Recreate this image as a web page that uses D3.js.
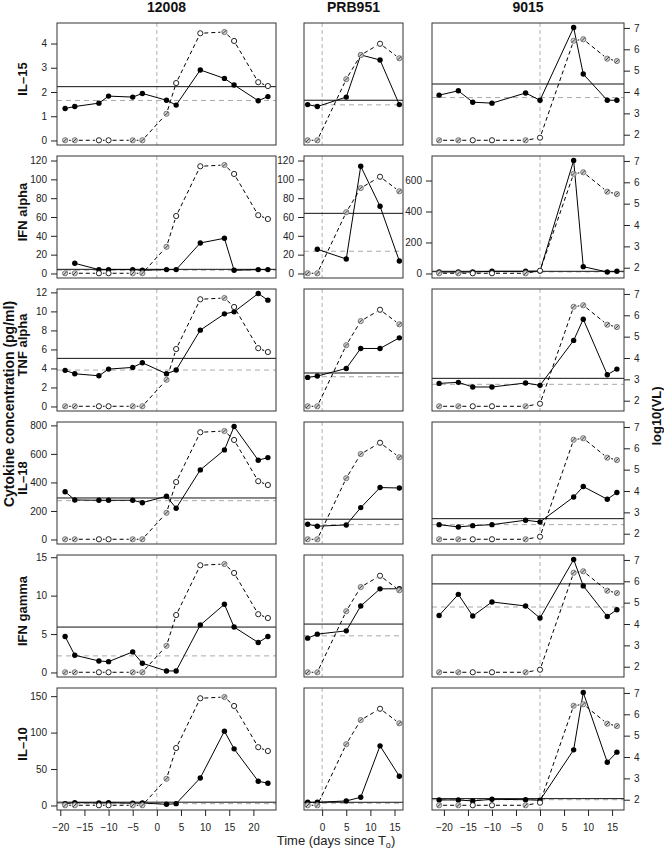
<!DOCTYPE html>
<html><head><meta charset="utf-8">
<script src="https://cdn.jsdelivr.net/npm/d3@7"></script>
<style>body{margin:0;background:#fff}svg{display:block;font-family:"Liberation Sans",Arial,Helvetica,sans-serif}</style>
</head><body><svg id="c" width="664" height="855"></svg>
<script>
// ---------------- DATA ----------------
const patients = ["12008", "PRB951", "9015"];
const cytokines = ["IL\u201315", "IFN alpha", "TNF alpha", "IL\u201318", "IFN gamma", "IL\u201310"];

const days12008 = [-19, -17, -12, -10, -5, -3, 2, 4, 9, 14, 16, 21, 23];
const daysPRB951 = [-3, -1, 5, 8, 12, 16];
const days9015 = [-21, -17, -14, -10, -3, 0, 7, 9, 14, 16];

// log10 viral load (same in every row for a given patient)
const vl12008 = [1.74, 1.74, 1.74, 1.74, 1.74, 1.74, 2.98, 4.42, 6.75, 6.81, 6.39, 4.46, 4.28];
const vlPRB951 = [1.74, 1.74, 4.6, 5.73, 6.26, 5.58];
const vl9015 = [1.74, 1.74, 1.74, 1.74, 1.74, 1.86, 6.4, 6.47, 5.56, 5.45];
// symbol kind of the viral-load points: "o" open, "g" grey crossed
const vlKind12008 = ["g", "g", "o", "o", "g", "g", "g", "o", "o", "g", "o", "o", "o"];
const vlKindPRB951 = ["g", "g", "g", "g", "o", "g"];
const vlKind9015 = ["g", "g", "o", "o", "g", "o", "g", "g", "g", "g"];

// cytokine concentrations [12008, PRB951, 9015]
const il15 = [
  [1.32, 1.40, 1.54, 1.83, 1.79, 1.94, 1.66, 1.46, 2.91, 2.56, 2.29, 1.64, 1.81],
  [1.48, 1.40, 1.79, 3.53, 3.32, 1.48],
  [1.87, 2.05, 1.58, 1.54, 1.96, 1.66, 4.66, 2.74, 1.66, 1.66]
];
const ifnAlpha = [
  [null, 10.8, 4.1, 4.1, 4.1, 3.4, 4.1, 4.1, 32.4, 37.4, 3.4, 4.1, 4.1],
  [null, 25.7, 15.4, 113.9, 71.4, 13.3],
  [9.7, 9.7, 9.7, 14, 14, 16, 729, 44, 9.7, 14]
];
const tnfAlpha = [
  [3.80, 3.44, 3.23, 3.93, 4.11, 4.60, 3.44, 3.83, 8.03, 9.74, 9.95, 11.88, 11.18],
  [3.06, 3.20, 4.0, 6.1, 6.1, 7.22],
  [2.43, 2.54, 2.05, 2.05, 2.47, 2.22, 6.95, 9.18, 3.34, 3.93]
];
const il18 = [
  [335, 277, 275, 275, 275, 258, 303, 219, 488, 628, 792, 556, 574],
  [107, 93, 102, 223, 364, 361],
  [104, 88, 97, 104, 135, 123, 298, 371, 282, 329]
];
const ifnGamma = [
  [4.68, 2.25, 1.50, 1.41, 2.68, 1.20, 0.2, 0.2, 6.17, 8.87, 5.91, 3.90, 4.68],
  [4.47, 4.99, 5.42, 8.65, 10.88, 10.9],
  [7.42, 10.17, 7.35, 9.18, 8.65, 7.08, 14.7, 11.27, 7.29, 8.17]
];
const il10 = [
  [2.5, 3.9, 3.4, 3.9, 3.0, 3.4, 1.6, 2.5, 37.8, 102, 77.7, 33.3, 30.5],
  [4.4, 4.4, 6.2, 11.3, 81.8, 40.2],
  [7.6, 7.6, 6.2, 8.5, 7.9, 7.2, 76.3, 155, 59.4, 73.2]
];

// horizontal reference levels per row [12008, PRB951, 9015]
const thresholdSolid = [
  [2.22, 1.66, 2.33], [4.4, 63.9, 14], [5.06, 3.52, 2.96],
  [291, 142, 146], [5.91, 6.30, 11.53], [4.5, 4.4, 9.4]
];
const baselineDashed = [
  [1.65, 1.47, 1.77], [3.5, 23.6, 10], [3.83, 3.13, 2.33],
  [272, 104, 104], [2.16, 4.77, 8.52], [2.5, 3.0, 7.9]
];

// axis limits / ticks
const ifnAlphaLimit = 120;
const vlLimits = [1.73, 7.02];
const leftTicks = [[0, 1, 2, 3, 4], [0, 20, 40, 60, 80, 100, 120], [0, 2, 4, 6, 8, 10, 12],
  [0, 200, 400, 600, 800], [0, 5, 10, 15], [0, 50, 100, 150]];
const ifnAlphaTicks9015 = [0, 200, 400, 600];
const vlTicks = [2, 3, 4, 5, 6, 7];
const xTicks = [[-20, -15, -10, -5, 0, 5, 10, 15, 20], [0, 5, 10, 15], [-20, -15, -10, -5, 0, 5, 10, 15]];

// ---------------- LAYOUT ----------------
const days = [days12008, daysPRB951, days9015];
const vls = [vl12008, vlPRB951, vl9015];
const vlKinds = [vlKind12008, vlKindPRB951, vlKind9015];
const series = [il15, ifnAlpha, tnfAlpha, il18, ifnGamma, il10];

const colLeft = [57, 304, 432], colRight = [276, 403, 624];
const rowTop0 = 23, rowStep = 133, rowH = 122;
const pad4 = ([a, b]) => [a - (b - a) * 0.04, b + (b - a) * 0.04];
const fmt = d => d < 0 ? "\u2212" + Math.abs(d) : String(d);

const svg = d3.select("#c");
const xScales = days.map((d, c) => d3.scaleLinear().domain(pad4(d3.extent(d))).range([colLeft[c], colRight[c]]));

function styleAxis(g) {
  g.select(".domain").remove();
  g.selectAll(".tick line").attr("stroke", "#222");
  g.selectAll(".tick text").attr("fill", "#222").style("font-size", "10px")
    .style("font-family", '"Liberation Sans",Arial,sans-serif');
}

for (let r = 0; r < 6; r++) {
  const top = rowTop0 + r * rowStep, bottom = top + rowH;
  const rowMax = d3.max(series[r].flat().filter(v => v != null));
  for (let c = 0; c < 3; c++) {
    const x = xScales[c];
    let yMax = rowMax;
    if (r === 1) yMax = c < 2 ? ifnAlphaLimit : d3.max(series[r][2]);
    const y = d3.scaleLinear().domain(pad4([0, yMax])).range([bottom, top]);
    const v = d3.scaleLinear().domain(pad4(vlLimits)).range([bottom, top]);
    const L = colLeft[c], R = colRight[c];
    const g = svg.append("g");
    const cid = "clip" + r + "_" + c;
    g.append("clipPath").attr("id", cid).append("rect").attr("x", L).attr("y", top).attr("width", R - L).attr("height", rowH);
    const inner = g.append("g").attr("clip-path", "url(#" + cid + ")");

    // vertical line at day 0
    inner.append("line").attr("x1", x(0)).attr("x2", x(0)).attr("y1", top).attr("y2", bottom)
      .attr("stroke", "#b0b0b0").attr("stroke-dasharray", "4,3");
    // reference lines
    inner.append("line").attr("x1", L).attr("x2", R).attr("y1", y(baselineDashed[r][c])).attr("y2", y(baselineDashed[r][c]))
      .attr("stroke", "#aaaaaa").attr("stroke-dasharray", "5,4");
    inner.append("line").attr("x1", L).attr("x2", R).attr("y1", y(thresholdSolid[r][c])).attr("y2", y(thresholdSolid[r][c]))
      .attr("stroke", "#111").attr("stroke-width", 1);

    // cytokine series
    const pts = days[c].map((d, i) => ({ d, val: series[r][c][i] }));
    const line = d3.line().defined(p => p.val != null).x(p => x(p.d)).y(p => y(p.val));
    inner.append("path").attr("d", line(pts)).attr("fill", "none").attr("stroke", "#000").attr("stroke-width", 1);
    inner.selectAll(null).data(pts.filter(p => p.val != null)).join("circle")
      .attr("cx", p => x(p.d)).attr("cy", p => y(p.val)).attr("r", 2.7).attr("fill", "#000");

    // viral load series (type "b": gaps around points)
    const vp = days[c].map((d, i) => ({ d, val: vls[c][i], k: vlKinds[c][i] }));
    const segs = [];
    for (let i = 0; i < vp.length - 1; i++) {
      const x1 = x(vp[i].d), y1 = v(vp[i].val), x2 = x(vp[i + 1].d), y2 = v(vp[i + 1].val);
      const len = Math.hypot(x2 - x1, y2 - y1), gap = 4;
      if (len > 2 * gap + 1) {
        const ux = (x2 - x1) / len, uy = (y2 - y1) / len;
        segs.push([x1 + ux * gap, y1 + uy * gap, x2 - ux * gap, y2 - uy * gap]);
      }
    }
    inner.selectAll(null).data(segs).join("line")
      .attr("x1", s => s[0]).attr("y1", s => s[1]).attr("x2", s => s[2]).attr("y2", s => s[3])
      .attr("stroke", "#000").attr("stroke-dasharray", "4,3").attr("stroke-width", 1);
    const sym = inner.selectAll(null).data(vp).join("g")
      .attr("transform", p => `translate(${x(p.d)},${v(p.val)})`);
    sym.append("circle").attr("r", 2.6)
      .attr("fill", p => p.k === "g" ? "#cfcfcf" : "#fff")
      .attr("stroke", p => p.k === "g" ? "#7a7a7a" : "#222").attr("stroke-width", 1);
    sym.filter(p => p.k === "g").append("line").attr("x1", -1.7).attr("y1", 1.7).attr("x2", 1.7).attr("y2", -1.7)
      .attr("stroke", "#3a3a3a").attr("stroke-width", 1);

    // box
    g.append("rect").attr("x", L).attr("y", top).attr("width", R - L).attr("height", rowH)
      .attr("fill", "none").attr("stroke", "#333").attr("stroke-width", 1);

    // left axis
    if (c === 0 || r === 1) {
      const ticks = (r === 1 && c === 2) ? ifnAlphaTicks9015 : leftTicks[r];
      svg.append("g").attr("transform", `translate(${L},0)`)
        .call(d3.axisLeft(y).tickValues(ticks).tickSize(6).tickPadding(4).tickFormat(fmt)).call(styleAxis);
    }
    // right axis (viral load)
    if (c === 2) {
      svg.append("g").attr("transform", `translate(${R},0)`)
        .call(d3.axisRight(v).tickValues(vlTicks).tickSize(6).tickPadding(4).tickFormat(fmt)).call(styleAxis);
    }
    // bottom axis
    if (r === 5) {
      svg.append("g").attr("transform", `translate(0,${bottom})`)
        .call(d3.axisBottom(x).tickValues(xTicks[c]).tickSize(6).tickPadding(8).tickFormat(fmt)).call(styleAxis);
    }
    // column titles
    if (r === 0) {
      svg.append("text").attr("x", (L + R) / 2).attr("y", 12).attr("text-anchor", "middle")
        .style("font-weight", "bold").style("font-size", "14px").attr("fill", "#111").text(patients[c]);
    }
  }
  // row label
  svg.append("text").attr("transform", `translate(27,${top + rowH / 2 - 5}) rotate(-90)`).attr("text-anchor", "middle")
    .style("font-weight", "bold").style("font-size", "13px").attr("fill", "#111").text(cytokines[r]);
}

svg.append("text").attr("transform", `translate(14,404) rotate(-90)`).attr("text-anchor", "middle")
  .style("font-weight", "bold").style("font-size", "14px").attr("fill", "#111").text("Cytokine concentration (pg/ml)");
svg.append("text").attr("transform", `translate(661,416) rotate(-90)`).attr("text-anchor", "middle")
  .style("font-weight", "bold").style("font-size", "13px").attr("fill", "#111").text("log10(VL)");
const xt = svg.append("text").attr("x", 336).attr("y", 845).attr("text-anchor", "middle")
  .style("font-size", "13px").attr("fill", "#222");
xt.append("tspan").text("Time (days since T");
xt.append("tspan").attr("dy", 3).style("font-size", "9px").text("o");
xt.append("tspan").attr("dy", -3).text(")");
</script></body></html>
